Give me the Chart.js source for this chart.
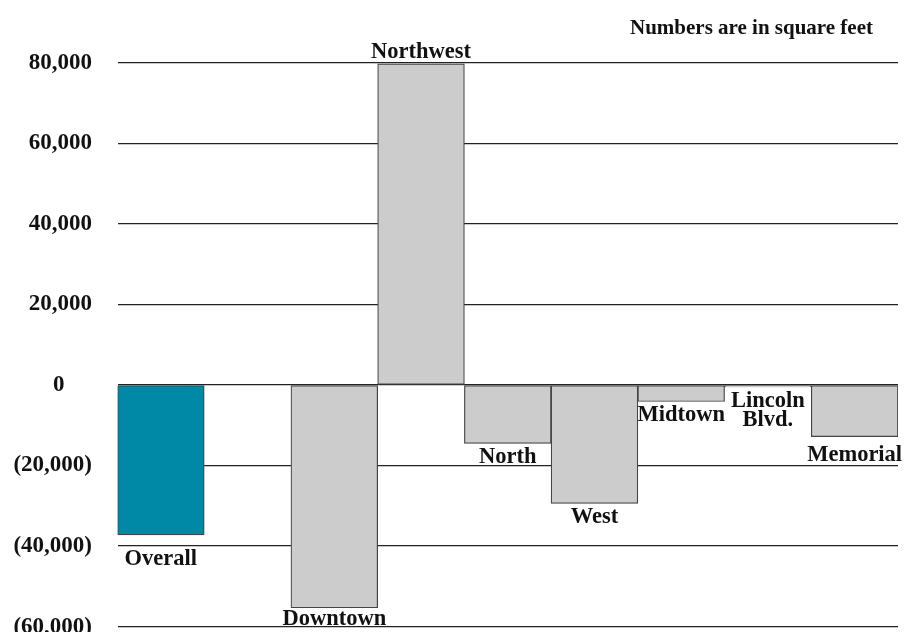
<!DOCTYPE html>
<html>
<head>
<meta charset="utf-8">
<script src="https://cdn.jsdelivr.net/npm/chart.js@4.4.1/dist/chart.umd.min.js"></script>
<style>
  html, body { margin: 0; padding: 0; background: #ffffff; }
  #wrap { width: 909px; height: 632px; position: relative; }
</style>
</head>
<body>
<div id="wrap"><canvas id="c" width="909" height="632"></canvas></div>
<script>
// ---- data ----
const categories = ['Overall', '', 'Downtown', 'Northwest', 'North', 'West', 'Midtown', ['Lincoln', 'Blvd.'], 'Memorial'];
const values = [-37200, null, -55300, 79700, -14500, -29400, -4100, -500, -12800];
const yTicks = [80000, 60000, 40000, 20000, 0, -20000, -40000, -60000];
const noteText = 'Numbers are in square feet';

// ---- styles ----
const FONT = '"Liberation Serif", "Times New Roman", serif';
const barColors = categories.map((c, i) => i === 0 ? '#0089a6' : '#cccccc');

function fmt(v) {
  if (v === 0) return '0    \u2009';
  const s = Math.abs(v).toLocaleString('en-US');
  return v < 0 ? '(' + s + ')' : s;
}

const labelNudge = { 'Overall': 11, 'Memorial': 5, 'Downtown': -2 };

const barLabels = {
  id: 'barLabels',
  afterDatasetsDraw(chart) {
    const ctx = chart.ctx;
    const meta = chart.getDatasetMeta(0);
    ctx.save();
    ctx.font = 'bold 22.5px ' + FONT;
    ctx.fillStyle = '#111';
    ctx.textAlign = 'center';
    ctx.textBaseline = 'alphabetic';
    meta.data.forEach((el, i) => {
      const v = values[i];
      if (v === null || v === undefined) return;
      const lab = categories[i];
      const lines = Array.isArray(lab) ? lab : [lab];
      const key = lines.join(' ');
      if (v >= 0) {
        let y = el.y - 5.5;
        for (let k = lines.length - 1; k >= 0; k--) {
          ctx.fillText(lines[k], el.x, y);
          y -= 19.5;
        }
      } else {
        let y = el.y + 19.5 + (labelNudge[key] || 0);
        lines.forEach(l => { ctx.fillText(l, el.x, y); y += 19.5; });
      }
    });
    // note
    ctx.font = 'bold 21px ' + FONT;
    ctx.textAlign = 'right';
    ctx.fillText(noteText, chart.chartArea.right - 25, 34);
    ctx.restore();
  }
};

new Chart(document.getElementById('c'), {
  type: 'bar',
  data: {
    labels: categories,
    datasets: [{
      data: values,
      backgroundColor: barColors,
      borderColor: '#444444',
      borderWidth: 1.2,
      borderSkipped: false,
      categoryPercentage: 1.0,
      barPercentage: 1.0
    }]
  },
  options: {
    responsive: false,
    animation: false,
    devicePixelRatio: 1,
    layout: { padding: { top: 62.7, right: 11, bottom: 5.3, left: 0 } },
    plugins: {
      legend: { display: false },
      tooltip: { enabled: false },
      title: { display: false }
    },
    scales: {
      x: { display: false },
      y: {
        min: -60000,
        max: 80000,
        afterBuildTicks(scale) { scale.ticks = yTicks.map(v => ({ value: v })); },
        afterFit(scale) { scale.width = 117.5; scale.paddingTop = 0; scale.paddingBottom = 0; },
        border: { display: false },
        grid: { color: '#222222', lineWidth: 1.3, drawTicks: false },
        ticks: {
          padding: 25.5,
          color: '#111',
          font: { family: FONT, size: 23, weight: 'bold' },
          callback: (v) => fmt(v),
          autoSkip: false
        }
      }
    }
  },
  plugins: [barLabels]
});
</script>
</body>
</html>
